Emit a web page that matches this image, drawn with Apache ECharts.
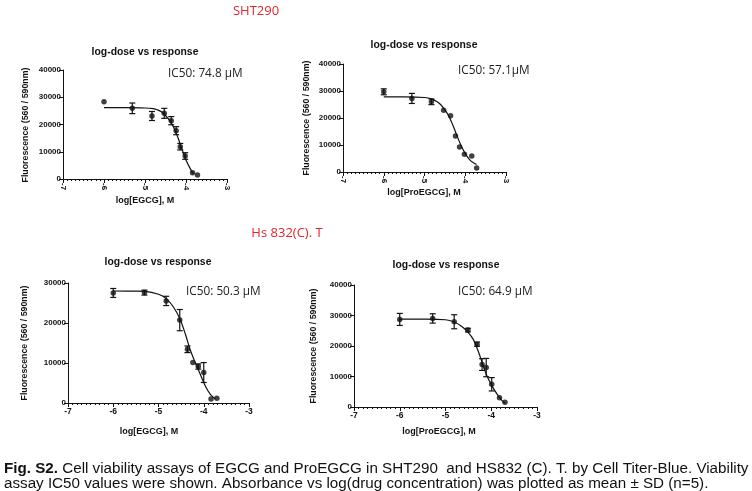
<!DOCTYPE html>
<html>
<head>
<meta charset="utf-8">
<script src="https://cdn.jsdelivr.net/npm/echarts@6/dist/echarts.min.js"></script>
<style>html,body{margin:0;padding:0;background:#fff;}#c{width:752px;height:491px;}</style>
</head>
<body>
<div id="c"></div>
<script>
// ---- data ----
const p1Dose = [-6, -5.31, -4.83, -4.53, -4.36, -4.24, -4.14, -4.02, -3.84, -3.72];
const p1Mean = [28370, 25940, 23120, 24100, 21400, 17730, 11850, 8440, 2310, 1470];
const p1Sd   = [0, 1950, 1650, 1830, 1500, 1470, 1200, 1200, 0, 0];
const p1CurveX = [-6, -5.5, -5.0, -4.8, -4.7, -4.6, -4.5, -4.4, -4.3, -4.2, -4.1, -4.0, -3.9, -3.82];
const p1CurveY = [26170, 26160, 26050, 25800, 25400, 24700, 23300, 21500, 18900, 15300, 11000, 7000, 3900, 1900];

const p2Dose = [-6, -5.31, -4.83, -4.53, -4.36, -4.24, -4.14, -4.02, -3.84, -3.72];
const p2Mean = [29700, 27250, 26000, 22900, 20800, 13370, 9290, 6570, 5940, 1490];
const p2Sd   = [1100, 1860, 1050, 0, 0, 0, 0, 0, 0, 0];
const p2CurveX = [-6, -5.5, -5.0, -4.83, -4.7, -4.6, -4.5, -4.4, -4.3, -4.2, -4.1, -4.0, -3.9, -3.8, -3.72];
const p2CurveY = [27860, 27850, 27600, 27100, 26100, 24900, 23000, 20600, 17200, 13300, 9700, 6800, 4700, 3400, 2750];

const p3Dose = [-6, -5.31, -4.83, -4.53, -4.36, -4.24, -4.12, -4.0, -3.84, -3.71];
const p3Mean = [27510, 27600, 25520, 20720, 13430, 10110, 9120, 7620, 1000, 1160];
const p3Sd   = [1120, 620, 1160, 2650, 830, 0, 660, 2490, 0, 0];
const p3CurveX = [-6, -5.5, -5.3, -5.0, -4.83, -4.67, -4.53, -4.4, -4.3, -4.18, -4.07, -3.96, -3.85, -3.74];
const p3CurveY = [28000, 27950, 27900, 27200, 26100, 24000, 21100, 17000, 13300, 9900, 7000, 4100, 2100, 1000];

const p4Dose = [-6, -5.28, -4.81, -4.51, -4.31, -4.2, -4.11, -3.99, -3.82, -3.7];
const p4Mean = [28710, 29040, 27950, 25210, 20600, 13920, 12930, 7450, 3070, 1530];
const p4Sd   = [1970, 1530, 2300, 600, 700, 1920, 3000, 2190, 0, 0];
const p4CurveX = [-6, -5.5, -5.0, -4.82, -4.65, -4.52, -4.39, -4.28, -4.18, -4.1, -3.99, -3.88, -3.77, -3.7];
const p4CurveY = [28820, 28800, 28600, 27950, 26500, 24700, 22100, 18100, 13700, 10400, 7100, 4400, 2200, 1300];

const yMaxes = [40000, 40000, 30000, 40000];
const xTitles = ['log[EGCG], M', 'log[ProEGCG], M', 'log[EGCG], M', 'log[ProEGCG], M'];
const ic50Labels = ['IC50: 74.8 µM', 'IC50: 57.1µM', 'IC50: 50.3 µM', 'IC50: 64.9 µM'];
const panelTitle = 'log-dose vs response';
const yTitle = 'Fluorescence (560 / 590nm)';
const groupTitles = ['SHT290', 'Hs 832(C). T'];
const captionBold = 'Fig. S2.';
const captionLine1 = ' Cell viability assays of EGCG and ProEGCG in SHT290  and HS832 (C). T. by Cell Titer-Blue. Viability';
const captionLine2 = 'assay IC50 values were shown. Absorbance vs log(drug concentration) was plotted as mean ± SD (n=5).';

// ---- layout ----
const grids = [
  {left: 63, top: 70, width: 164, height: 109},
  {left: 343, top: 64, width: 163, height: 108},
  {left: 68, top: 283, width: 181, height: 120},
  {left: 354, top: 285, width: 183, height: 122}
];
const rotatedX = [true, true, false, false];

const panels = [
  [p1Dose, p1Mean, p1Sd, p1CurveX, p1CurveY],
  [p2Dose, p2Mean, p2Sd, p2CurveX, p2CurveY],
  [p3Dose, p3Mean, p3Sd, p3CurveX, p3CurveY],
  [p4Dose, p4Mean, p4Sd, p4CurveX, p4CurveY]
];

const FONT = 'Liberation Sans, Arial, sans-serif';
const xAxes = [], yAxes = [], series = [];
grids.forEach((g, i) => {
  xAxes.push({
    type: 'value', gridIndex: i, min: -7, max: -3, interval: 1,
    axisLine: {show: true, lineStyle: {color: '#111', width: 1}},
    axisTick: {show: true, length: 4, lineStyle: {color: '#111'}},
    minorTick: {show: true, splitNumber: 10, length: 2, lineStyle: {color: '#111'}},
    splitLine: {show: false},
    axisLabel: rotatedX[i]
      ? {rotate: -90, fontSize: 8, fontWeight: 'bold', color: '#111', fontFamily: FONT, margin: 4}
      : {fontSize: 8.5, fontWeight: 'bold', color: '#111', fontFamily: FONT, margin: 4}
  });
  yAxes.push({
    type: 'value', gridIndex: i, min: 0, max: yMaxes[i], interval: 10000,
    axisLine: {show: true, lineStyle: {color: '#111', width: 1}},
    axisTick: {show: true, length: 4, lineStyle: {color: '#111'}},
    splitLine: {show: false},
    axisLabel: {fontSize: 8, fontWeight: 'bold', color: '#111', fontFamily: FONT, margin: 2,
      formatter: v => String(v)}
  });
  const [dose, mean, sd, cx, cy] = panels[i];
  series.push({
    type: 'line', xAxisIndex: i, yAxisIndex: i, smooth: 0.35, showSymbol: false,
    lineStyle: {color: '#111', width: 1.2}, silent: true,
    data: cx.map((x, k) => [x, cy[k]])
  });
  series.push({
    type: 'custom', xAxisIndex: i, yAxisIndex: i, silent: true,
    data: dose.map((x, k) => [x, mean[k], sd[k]]),
    renderItem: function (params, api) {
      const x = api.value(0), y = api.value(1), e = api.value(2);
      if (!e) return null;
      const top = api.coord([x, y + e]);
      const bot = api.coord([x, y - e]);
      const w = 3;
      const st = {stroke: '#111', lineWidth: 1.2};
      return {type: 'group', children: [
        {type: 'line', shape: {x1: top[0], y1: top[1], x2: bot[0], y2: bot[1]}, style: st},
        {type: 'line', shape: {x1: top[0] - w, y1: top[1], x2: top[0] + w, y2: top[1]}, style: st},
        {type: 'line', shape: {x1: bot[0] - w, y1: bot[1], x2: bot[0] + w, y2: bot[1]}, style: st}
      ]};
    },
    z: 3
  });
  series.push({
    type: 'scatter', xAxisIndex: i, yAxisIndex: i, symbol: 'circle', symbolSize: 5.5,
    itemStyle: {color: '#111'}, silent: true,
    data: dose.map((x, k) => [x, mean[k]]), z: 4
  });
});

// ---- text elements ----
const graphics = [];
function txt(x, y, text, opts) {
  graphics.push({
    type: 'text', x: x, y: y, silent: true,
    style: Object.assign({text: text, fill: '#111', align: 'center', verticalAlign: 'middle',
      fontFamily: FONT, fontSize: 10}, opts || {})
  });
}
function rtxt(x, y, text, opts) {
  graphics.push({
    type: 'text', x: x, y: y, rotation: Math.PI / 2, silent: true,
    style: Object.assign({text: text, fill: '#111', align: 'center', verticalAlign: 'middle',
      fontFamily: FONT, fontSize: 8.8, fontWeight: 'bold'}, opts || {})
  });
}
// group titles
txt(256, 11, groupTitles[0], {fill: '#e3262b', fontFamily: 'Open Sans, sans-serif', fontSize: 13});
txt(287, 233, groupTitles[1], {fill: '#e3262b', fontFamily: 'Open Sans, sans-serif', fontSize: 13});
// panel titles
const titlePos = [[145, 52], [424, 45], [158, 262], [446, 265]];
titlePos.forEach(p => txt(p[0], p[1], panelTitle, {fontWeight: 'bold', fontSize: 10.4}));
// IC50 labels
const icPos = [[168, 74], [458, 71], [186, 292], [458, 292]];
icPos.forEach((p, i) => txt(p[0], p[1], ic50Labels[i], {align: 'left', fontFamily: 'Open Sans, sans-serif', fontSize: 11.8, fill: '#222'}));
// y titles
const yTitlePos = [[26, 125], [307, 118], [25, 343], [314, 346]];
yTitlePos.forEach(p => rtxt(p[0], p[1], yTitle));
// x titles
const xTitlePos = [[145, 201], [424, 193], [149, 432], [439, 432]];
xTitlePos.forEach((p, i) => txt(p[0], p[1], xTitles[i], {fontWeight: 'bold', fontSize: 9}));
// caption
graphics.push({
  type: 'text', x: 4, y: 461, silent: true,
  style: {
    text: '{b|' + captionBold + '}' + captionLine1 + '\n' + captionLine2,
    fill: '#111', fontFamily: FONT, fontSize: 15.2, lineHeight: 15, align: 'left', verticalAlign: 'top',
    rich: {b: {fontWeight: 'bold', fontFamily: FONT, fontSize: 15.2, fill: '#111'}}
  }
});

const chart = echarts.init(document.getElementById('c'), null, {renderer: 'canvas'});
chart.setOption({
  animation: false,
  backgroundColor: '#fff',
  grid: grids,
  xAxis: xAxes,
  yAxis: yAxes,
  series: series,
  graphic: graphics
});
</script>
</body>
</html>
